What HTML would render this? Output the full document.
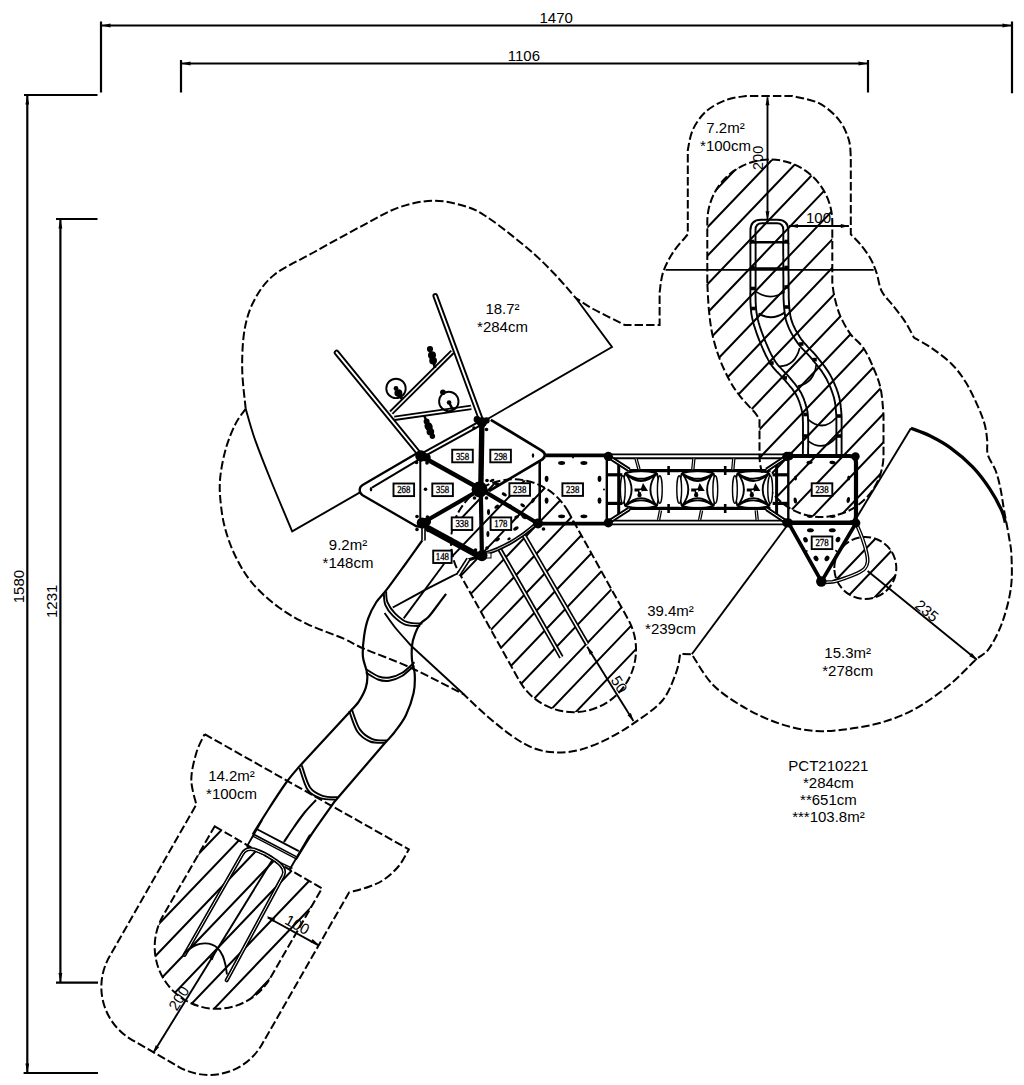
<!DOCTYPE html>
<html><head><meta charset="utf-8"><title>PCT210221</title>
<style>
html,body{margin:0;padding:0;background:#fff;}
body{width:1024px;height:1085px;overflow:hidden;}
svg{display:block;}
text{fill:#000;}
</style></head><body>
<svg width="1024" height="1085" viewBox="0 0 1024 1085">
<defs>
<clipPath id="hc1"><path d="M707.3 283L707.3 222A62.3 62.3 0 0 1 832.3 222L832.3 283C832.7 285.3 833.2 291.6 834.5 297C835.8 302.4 837.4 309.2 840 315.3C842.6 321.4 846.2 328.2 850.1 333.6C854 339 859.4 342.1 863.3 347.8C867.2 353.5 870.6 361.2 873.5 368C876.4 374.8 878.9 380.6 880.6 388.3C882.3 396 883 409.7 883.5 414L883.5 455A62 62 0 0 1 759.5 455L759.5 419C758.7 418.8 758.1 416.7 754.9 412.7C751.6 408.7 744.1 401.4 740 396.1C735.9 390.9 733.4 387.4 730 381.2C726.6 375 722.6 366.6 719.7 359C716.8 351.4 714.4 343.4 712.6 335.4C710.8 327.4 709.9 319.7 709 311C708.1 302.3 707.6 287.7 707.3 283Z"/></clipPath>
<clipPath id="hc2"><path d="M567.6 510.6L628.6 620.1A62.5 62.5 0 0 1 519.4 680.9L458.4 571.4A62.5 62.5 0 0 1 567.6 510.6Z"/></clipPath>
<clipPath id="hc3"><path d="M214.7 826.3L322 888.3L270.4 977.8A62 62 0 0 1 163 915.8Z"/></clipPath>
<clipPath id="hc4"><path d="M834.3 568A31 31 0 1 1 896.3 568A31 31 0 1 1 834.3 568Z"/></clipPath>
</defs>
<rect width="1024" height="1085" fill="#fff"/>
<line x1="101" y1="25.5" x2="1012" y2="25.5" stroke="#000" stroke-width="2.2"/>
<line x1="101" y1="21.5" x2="101" y2="92.5" stroke="#000" stroke-width="2.2"/>
<line x1="1012" y1="21.5" x2="1012" y2="93.3" stroke="#000" stroke-width="2.2"/>
<polygon points="101.5,25.5 110.5,23.6 110.5,27.4" fill="#000"/>
<polygon points="1011.5,25.5 1002.5,27.4 1002.5,23.6" fill="#000"/>
<line x1="181" y1="63.5" x2="868" y2="63.5" stroke="#000" stroke-width="2.2"/>
<line x1="181" y1="60" x2="181" y2="92.5" stroke="#000" stroke-width="2.2"/>
<line x1="868" y1="60" x2="868" y2="92.5" stroke="#000" stroke-width="2.2"/>
<polygon points="181.5,63.5 190.5,61.6 190.5,65.4" fill="#000"/>
<polygon points="867.5,63.5 858.5,65.4 858.5,61.6" fill="#000"/>
<line x1="27.3" y1="95" x2="27.3" y2="1073" stroke="#000" stroke-width="2.2"/>
<line x1="24" y1="95" x2="97.5" y2="95" stroke="#000" stroke-width="2.2"/>
<line x1="23.6" y1="1073" x2="98" y2="1073" stroke="#000" stroke-width="2.2"/>
<polygon points="27.3,95.5 29.2,104.5 25.4,104.5" fill="#000"/>
<polygon points="27.3,1072.5 25.4,1063.5 29.2,1063.5" fill="#000"/>
<line x1="60.4" y1="219" x2="60.4" y2="982.6" stroke="#000" stroke-width="2.2"/>
<line x1="56" y1="219" x2="97.5" y2="219" stroke="#000" stroke-width="2.2"/>
<line x1="56" y1="982.6" x2="98" y2="982.6" stroke="#000" stroke-width="2.2"/>
<polygon points="60.4,219.5 62.3,228.5 58.5,228.5" fill="#000"/>
<polygon points="60.4,982 58.5,973 62.3,973" fill="#000"/>
<path d="M245.7 408.9C245.1 402.2 242.4 382.3 242.2 369C242 355.7 242.6 340.6 244.7 329C246.8 317.4 249.7 308.5 254.7 299.4C259.7 290.3 264.7 282.4 274.6 274.5C284.6 266.6 299.5 260.3 314.4 252C329.3 243.7 349.9 232.2 364 224.8C378.1 217.4 387.4 211.4 399 207.4C410.6 203.4 422.5 200.8 433.8 200.7C445.1 200.6 457.7 204 466.6 206.7C475.5 209.4 479.5 212.2 487 217C494.5 221.8 503.5 228.9 511.7 235.4C519.9 241.9 528.8 249.1 536.3 255.9C543.8 262.7 550.2 269.4 556.8 276.4C563.4 283.4 572.6 294.4 575.8 298C578.7 299.8 585.1 304.5 593.2 309C601.4 313.5 619.5 322.3 624.7 325L659.6 325L659.6 292.5C660.2 289.2 660.8 279.2 663 272.6C665.2 266 668.8 259 672.9 252.6C677 246.2 685.3 237.4 687.8 234.4L687.8 150C688.6 146.6 689.8 136.2 692.8 129.8C695.8 123.4 700.5 116.5 706 111.5C711.5 106.5 719.3 102.6 726 100C732.7 97.4 742.7 96.7 746 96L792.4 96C796.8 97.2 811.2 99.2 819 103.2C826.8 107.2 833.9 113.7 838.9 119.8C843.9 125.9 846.8 133.4 848.8 139.8C850.8 146.2 850.5 155 850.8 158L850.8 234.4C852.4 236.1 857 240.3 860.3 244.3C863.6 248.3 867.7 253.8 870.4 258.5C873.1 263.2 874.6 267.3 876.5 272.7C878.4 278.1 878.9 285.6 881.6 291C884.3 296.4 888.8 300.1 892.7 305.2C896.6 310.3 901.4 316 904.9 321.4C908.4 326.8 912.5 334.9 914 337.6C916.9 339.3 925 343.4 931.3 347.8C937.6 352.2 945.9 358.2 951.6 364C957.4 369.8 961.4 375.2 965.8 382.3C970.2 389.4 974.9 399.6 978 406.6C981.1 413.6 983.2 418.9 984.7 424.5C986.2 430.1 986.7 435.2 987.2 440.3C987.7 445.4 986.4 449.8 987.8 454.8C989.2 459.8 993.5 464.9 995.6 470.5C997.7 476.1 999.1 482 1000.5 488.7C1001.9 495.4 1002.7 502.4 1004.1 510.5C1005.5 518.5 1007.8 529.4 1009 537C1010.2 544.6 1011.2 547.5 1011.5 556C1011.8 564.5 1012.4 577 1010.9 588C1009.4 599 1006.1 611.6 1002.5 621.7C998.9 631.8 993.5 642.2 989 648.6C984.5 655 982.3 653.9 975.6 660C968.9 666.1 958.8 677.3 948.7 685.5C938.6 693.7 926.2 702.8 915 709C903.8 715.2 892.7 719.2 881.5 722.5C870.3 725.8 859.2 727.6 848 729C836.8 730.4 825.6 731.8 814.4 731C803.2 730.2 792 727.7 780.8 724C769.6 720.3 758.2 715.4 747 709C735.8 702.6 722.8 694.6 713.6 685.5C704.4 676.4 695.4 659.5 691.8 654.3L680.2 654C679.5 657.2 679 665.2 676 673C673 680.8 669.2 692.3 662.4 700.5C655.6 708.7 644.1 716 635 722.4C625.9 728.8 616.8 734.2 607.7 738.8C598.6 743.3 589 747.4 580.4 749.7C571.8 752 563.5 752.6 555.8 752.4C548.1 752.2 541.3 751 534 748.3C526.7 745.6 520.2 741.7 512 736C503.8 730.3 492.7 720.9 484.7 714C476.7 707.1 467.4 697.8 464 694.5C455.2 690.1 428 675.6 411.4 668C394.8 660.4 375.7 653.8 364.4 648.9C353.1 644 353.1 642.8 343.7 638.7C334.3 634.6 318.6 629.5 307.8 624.3C297 619.1 288.2 614.3 279 607.5C269.8 600.7 259.9 592 252.7 583.6C245.5 575.2 240.5 566.4 235.9 557.2C231.3 548 227.7 538.1 225.1 528.5C222.5 518.9 221.2 508.6 220.4 499.8C219.6 491 219.4 484.6 220.4 475.8C221.4 467 223.7 455.8 226.3 447C228.9 438.2 232.7 429.5 235.9 423.1C239.1 416.8 244.1 411.3 245.7 408.9" fill="none" stroke="#000" stroke-width="2" stroke-dasharray="8.4 3.1"/>
<path d="M245.7 408.9C247.3 414.1 250.7 427.5 255.1 439.9C259.5 452.2 265.7 467.8 271.9 483C278.1 498.2 288.8 523.3 292.2 531.4L360 492.4" fill="none" stroke="#000" stroke-width="1.9"/>
<path d="M482 422.2L612 347L575.8 298" fill="none" stroke="#000" stroke-width="1.9"/>
<path d="M786.8 526L691.8 654.3" fill="none" stroke="#000" stroke-width="1.9"/>
<path d="M856.4 518L910.9 428.2" fill="none" stroke="#000" stroke-width="1.9"/>
<path d="M910.9 428.2C914.1 429.5 923.6 432.7 930.3 436C936.9 439.3 943.8 443 950.8 448.1C957.8 453.2 966.1 460.1 972.6 466.9C979.1 473.7 984.8 481.4 989.6 488.7C994.5 496 999.1 504.9 1001.7 510.5C1004.3 516.1 1004.7 520.6 1005.3 522.6" fill="none" stroke="#000" stroke-width="3.3"/>
<path d="M411.4 646L464 694.5" fill="none" stroke="#000" stroke-width="1.9"/>
<path d="M204.6 734.2L408.8 849.4C407.1 852.2 402.9 861 398.8 866C394.7 871 388.9 876.1 384 879.5C379.1 882.9 375.4 884.3 369.6 886.5C363.8 888.7 352.4 891.5 349 892.5L261.9 1044.5A61 61 0 0 1 178.6 1066.8L131.8 1039.8A61 61 0 0 1 109.5 956.5L196.3 804.6C195.5 800.5 191.3 788.3 191.3 779.7C191.3 771.1 194.1 760.6 196.3 753C198.5 745.4 203.2 737.3 204.6 734.2" fill="none" stroke="#000" stroke-width="2" stroke-dasharray="8.4 3.1"/>
<g clip-path="url(#hc1)"><path d="M690 -381.5L900 -600.9M690 -353L900 -572.4M690 -324.5L900 -543.9M690 -296L900 -515.4M690 -267.5L900 -486.9M690 -239L900 -458.4M690 -210.5L900 -429.9M690 -182L900 -401.4M690 -153.5L900 -372.9M690 -125L900 -344.4M690 -96.5L900 -315.9M690 -68L900 -287.4M690 -39.5L900 -258.9M690 -11L900 -230.4M690 17.5L900 -201.9M690 46L900 -173.4M690 74.5L900 -144.9M690 103L900 -116.4M690 131.5L900 -87.9M690 160L900 -59.4M690 188.5L900 -30.9M690 217L900 -2.4M690 245.5L900 26.1M690 274L900 54.6M690 302.5L900 83.1M690 331L900 111.6M690 359.5L900 140.1M690 388L900 168.6M690 416.5L900 197.1M690 445L900 225.6M690 473.5L900 254.1M690 502L900 282.6M690 530.5L900 311.1M690 559L900 339.6M690 587.5L900 368.1M690 616L900 396.6M690 644.5L900 425.1M690 673L900 453.6M690 701.5L900 482.1M690 730L900 510.6M690 758.5L900 539.1M690 787L900 567.6M690 815.5L900 596.1M690 844L900 624.6M690 872.5L900 653.1M690 901L900 681.6M690 929.5L900 710.1M690 958L900 738.6M690 986.5L900 767.1M690 1015L900 795.6M690 1043.5L900 824.1M690 1072L900 852.6M690 1100.5L900 881.1M690 1129L900 909.6M690 1157.5L900 938.1M690 1186L900 966.6M690 1214.5L900 995.1M690 1243L900 1023.6M690 1271.5L900 1052.1M690 1300L900 1080.6M690 1328.5L900 1109.1" fill="none" stroke="#000" stroke-width="2.0"/></g>
<g clip-path="url(#hc2)"><path d="M430 -76.1L650 -306M430 -47.6L650 -277.5M430 -19.1L650 -249M430 9.4L650 -220.5M430 37.9L650 -192M430 66.4L650 -163.5M430 94.9L650 -135M430 123.4L650 -106.5M430 151.9L650 -78M430 180.4L650 -49.5M430 208.9L650 -21M430 237.4L650 7.5M430 265.9L650 36M430 294.4L650 64.5M430 322.9L650 93M430 351.4L650 121.5M430 379.9L650 150M430 408.4L650 178.5M430 436.9L650 207M430 465.4L650 235.5M430 493.9L650 264M430 522.5L650 292.5M430 551L650 321M430 579.5L650 349.5M430 608L650 378M430 636.5L650 406.5M430 665L650 435M430 693.5L650 463.5M430 722L650 492M430 750.5L650 520.5M430 779L650 549M430 807.5L650 577.5M430 836L650 606M430 864.5L650 634.5M430 893L650 663M430 921.5L650 691.5M430 950L650 720M430 978.5L650 748.5M430 1007L650 777M430 1035.5L650 805.5M430 1064L650 834M430 1092.5L650 862.5M430 1121L650 891M430 1149.5L650 919.5M430 1178L650 948M430 1206.5L650 976.5M430 1235L650 1005M430 1263.5L650 1033.5M430 1292L650 1062M430 1320.5L650 1090.5M430 1349L650 1119M430 1377.5L650 1147.5M430 1406L650 1176M430 1434.5L650 1204.5M430 1463L650 1233M430 1491.5L650 1261.5M430 1520L650 1290M430 1548.5L650 1318.5M430 1577L650 1347M430 1605.5L650 1375.6M430 1634L650 1404.1" fill="none" stroke="#000" stroke-width="2.0"/></g>
<g clip-path="url(#hc3)"><path d="M140 202.7L340 -6.3M140 231.2L340 22.2M140 259.7L340 50.7M140 288.2L340 79.2M140 316.7L340 107.7M140 345.2L340 136.2M140 373.7L340 164.7M140 402.2L340 193.2M140 430.7L340 221.7M140 459.2L340 250.2M140 487.7L340 278.7M140 516.2L340 307.2M140 544.7L340 335.7M140 573.2L340 364.2M140 601.7L340 392.7M140 630.2L340 421.2M140 658.7L340 449.7M140 687.2L340 478.2M140 715.7L340 506.7M140 744.2L340 535.2M140 772.7L340 563.7M140 801.2L340 592.2M140 829.7L340 620.7M140 858.2L340 649.2M140 886.7L340 677.7M140 915.2L340 706.2M140 943.7L340 734.7M140 972.2L340 763.2M140 1000.7L340 791.7M140 1029.2L340 820.2M140 1057.7L340 848.7M140 1086.2L340 877.2M140 1114.7L340 905.7M140 1143.2L340 934.2M140 1171.7L340 962.7M140 1200.2L340 991.2M140 1228.7L340 1019.7M140 1257.2L340 1048.2M140 1285.7L340 1076.7M140 1314.2L340 1105.2M140 1342.7L340 1133.7M140 1371.2L340 1162.2M140 1399.7L340 1190.7M140 1428.2L340 1219.2M140 1456.7L340 1247.7M140 1485.2L340 1276.2M140 1513.7L340 1304.7M140 1542.2L340 1333.2M140 1570.7L340 1361.7M140 1599.2L340 1390.2M140 1627.7L340 1418.7M140 1656.2L340 1447.2M140 1684.7L340 1475.7M140 1713.2L340 1504.2M140 1741.7L340 1532.7M140 1770.2L340 1561.2M140 1798.7L340 1589.7M140 1827.2L340 1618.2M140 1855.7L340 1646.7M140 1884.2L340 1675.2M140 1912.7L340 1703.7" fill="none" stroke="#000" stroke-width="2.0"/></g>
<g clip-path="url(#hc4)"><path d="M820 -241.5L905 -330.3M820 -212.6L905 -301.4M820 -183.7L905 -272.5M820 -154.8L905 -243.6M820 -125.9L905 -214.7M820 -97L905 -185.8M820 -68.1L905 -156.9M820 -39.2L905 -128M820 -10.3L905 -99.1M820 18.6L905 -70.2M820 47.5L905 -41.3M820 76.4L905 -12.4M820 105.3L905 16.5M820 134.2L905 45.4M820 163.1L905 74.3M820 192L905 103.2M820 220.9L905 132.1M820 249.8L905 161M820 278.7L905 189.9M820 307.6L905 218.8M820 336.5L905 247.7M820 365.4L905 276.6M820 394.3L905 305.5M820 423.2L905 334.4M820 452.1L905 363.3M820 481L905 392.2M820 509.9L905 421.1M820 538.8L905 450M820 567.7L905 478.9M820 596.6L905 507.8M820 625.5L905 536.7M820 654.4L905 565.6M820 683.3L905 594.5M820 712.2L905 623.4M820 741.1L905 652.3M820 770L905 681.2M820 798.9L905 710.1M820 827.8L905 739M820 856.7L905 767.9M820 885.6L905 796.8M820 914.5L905 825.7M820 943.4L905 854.6M820 972.3L905 883.5M820 1001.2L905 912.4M820 1030.1L905 941.3M820 1059L905 970.2M820 1087.9L905 999.1M820 1116.8L905 1028M820 1145.7L905 1056.9M820 1174.6L905 1085.8M820 1203.5L905 1114.7M820 1232.4L905 1143.6M820 1261.3L905 1172.5M820 1290.2L905 1201.4M820 1319.1L905 1230.3M820 1348L905 1259.2M820 1376.9L905 1288.1M820 1405.8L905 1317M820 1434.7L905 1345.9M820 1463.6L905 1374.8M820 1492.5L905 1403.7" fill="none" stroke="#000" stroke-width="2.0"/></g>
<path d="M707.3 283L707.3 222A62.3 62.3 0 0 1 832.3 222L832.3 283C832.7 285.3 833.2 291.6 834.5 297C835.8 302.4 837.4 309.2 840 315.3C842.6 321.4 846.2 328.2 850.1 333.6C854 339 859.4 342.1 863.3 347.8C867.2 353.5 870.6 361.2 873.5 368C876.4 374.8 878.9 380.6 880.6 388.3C882.3 396 883 409.7 883.5 414L883.5 455A62 62 0 0 1 759.5 455L759.5 419C758.7 418.8 758.1 416.7 754.9 412.7C751.6 408.7 744.1 401.4 740 396.1C735.9 390.9 733.4 387.4 730 381.2C726.6 375 722.6 366.6 719.7 359C716.8 351.4 714.4 343.4 712.6 335.4C710.8 327.4 709.9 319.7 709 311C708.1 302.3 707.6 287.7 707.3 283Z" fill="none" stroke="#000" stroke-width="2" stroke-dasharray="8.4 3.1"/>
<path d="M567.6 510.6L628.6 620.1A62.5 62.5 0 0 1 519.4 680.9L458.4 571.4A62.5 62.5 0 0 1 567.6 510.6Z" fill="none" stroke="#000" stroke-width="2" stroke-dasharray="8.4 3.1"/>
<path d="M214.7 826.3L322 888.3L270.4 977.8A62 62 0 0 1 163 915.8Z" fill="none" stroke="#000" stroke-width="2" stroke-dasharray="8.4 3.1"/>
<path d="M834.3 568A31 31 0 1 1 896.3 568A31 31 0 1 1 834.3 568Z" fill="none" stroke="#000" stroke-width="2" stroke-dasharray="8.4 3.1"/>
<path d="M750.4 243L750.4 244.8L750.4 247.2L750.4 249.9L750.4 253L750.4 256.4L750.4 259.9L750.4 263.6L750.4 267.2L750.4 270.7L750.4 274.1L750.4 277.2L750.4 280L750.4 282.5L750.4 284.9L750.4 287.3L750.4 289.5L750.4 291.6L750.3 293.7L750.3 295.7L750.4 297.7L750.4 299.6L750.4 301.5L750.5 303.3L750.6 305.1L750.7 306.7L750.8 308.3L751 309.8L751.1 311.1L751.2 312.5L751.4 313.8L751.6 315.1L751.9 316.4L752.1 317.7L752.4 319.1L752.8 320.6L753.2 322.2L753.6 323.8L754.1 325.6L754.7 327.3L755.3 329.2L755.9 331L756.5 332.9L757.2 334.8L757.9 336.7L758.6 338.6L759.3 340.4L760.1 342.2L760.8 344L761.5 345.7L762.3 347.5L763 349.2L763.8 351L764.6 352.7L765.4 354.5L766.3 356.2L767.2 357.9L768.1 359.6L769 361.2L769.9 362.8L770.9 364.3L772 365.9L773.1 367.3L774.2 368.7L775.4 370L776.6 371.3L777.8 372.5L778.9 373.7L780.1 374.9L781.2 376.1L782.3 377.2L783.4 378.4L784.4 379.6L785.5 380.8L786.5 382.1L787.6 383.3L788.6 384.5L789.6 385.8L790.7 387L791.6 388.2L792.6 389.4L793.4 390.6L794.3 391.8L795 393L795.8 394.1L796.4 395.3L797 396.5L797.6 397.7L798.1 398.8L798.6 400.1L799.1 401.3L799.5 402.5L799.9 403.7L800.3 404.8L800.6 406L801 407.2L801.3 408.4L801.6 409.5L801.8 410.4L802 411.2L802.2 412L802.3 412.7L802.4 413.4L802.5 414.3L802.6 415.2L802.7 416.3L802.8 417.7L802.8 419.2L802.9 421.1L803 423.3L803 426L803 429.1L803 432.4L803 435.8L803 439.3L803 442.8L803 446.1L802.9 449.2L802.9 451.9L802.9 454.2L802.9 456" fill="none" stroke="#000" stroke-width="1.9"/>
<path d="M755.6 243L755.6 244.8L755.6 247.2L755.6 249.9L755.6 253L755.6 256.4L755.6 259.9L755.6 263.6L755.6 267.2L755.6 270.7L755.6 274.1L755.6 277.2L755.6 280L755.6 282.5L755.6 285L755.6 287.3L755.6 289.5L755.6 291.7L755.5 293.7L755.5 295.7L755.6 297.6L755.6 299.5L755.6 301.3L755.7 303L755.8 304.7L755.9 306.4L756 307.9L756.1 309.3L756.3 310.6L756.4 311.8L756.6 313L756.8 314.2L757 315.4L757.2 316.7L757.5 318L757.8 319.3L758.2 320.8L758.6 322.4L759.1 324.1L759.6 325.8L760.2 327.6L760.8 329.4L761.4 331.2L762.1 333L762.8 334.9L763.5 336.7L764.2 338.5L764.9 340.3L765.6 342L766.3 343.7L767.1 345.4L767.8 347.2L768.6 348.9L769.3 350.6L770.1 352.2L770.9 353.9L771.8 355.5L772.6 357L773.5 358.6L774.4 360L775.3 361.5L776.2 362.8L777.2 364.1L778.2 365.3L779.3 366.5L780.4 367.7L781.5 368.9L782.7 370.1L783.8 371.3L785 372.5L786.1 373.7L787.3 374.9L788.4 376.2L789.4 377.5L790.5 378.7L791.5 379.9L792.6 381.2L793.6 382.5L794.7 383.7L795.7 385L796.7 386.3L797.7 387.6L798.6 388.9L799.4 390.2L800.2 391.5L801 392.8L801.7 394.1L802.3 395.5L802.9 396.8L803.5 398.1L804 399.4L804.4 400.8L804.9 402L805.3 403.3L805.6 404.6L806 405.8L806.3 407L806.6 408.1L806.9 409.1L807.1 410L807.3 410.9L807.4 411.8L807.6 412.7L807.7 413.7L807.8 414.8L807.9 416L808 417.4L808 419L808.1 420.9L808.2 423.2L808.2 426L808.2 429L808.2 432.4L808.2 435.8L808.2 439.3L808.2 442.8L808.2 446.1L808.1 449.2L808.1 452L808.1 454.3L808.1 456" fill="none" stroke="#000" stroke-width="1.9"/>
<path d="M783.2 243L783.2 244.8L783.2 247.2L783.2 249.9L783.2 253.1L783.3 256.4L783.3 260L783.3 263.6L783.3 267.2L783.3 270.7L783.3 274.1L783.4 277.2L783.4 280L783.4 282.5L783.4 284.9L783.4 287.2L783.4 289.5L783.5 291.6L783.5 293.6L783.5 295.7L783.5 297.6L783.6 299.5L783.7 301.4L783.8 303.3L783.9 305.1L784.1 306.9L784.2 308.6L784.4 310.2L784.5 311.8L784.7 313.3L784.9 314.8L785.2 316.3L785.5 317.8L785.8 319.3L786.2 320.9L786.7 322.4L787.3 324L787.9 325.6L788.5 327.2L789.2 328.8L790 330.4L790.8 332L791.7 333.6L792.6 335.2L793.5 336.8L794.5 338.3L795.5 339.9L796.5 341.4L797.6 342.9L798.7 344.4L799.9 345.9L801.2 347.4L802.5 348.8L803.8 350.2L805.1 351.5L806.4 352.9L807.7 354.2L809 355.6L810.2 356.9L811.4 358.3L812.6 359.7L813.8 361.1L814.9 362.6L816.1 364L817.3 365.5L818.5 367L819.6 368.5L820.7 369.9L821.8 371.4L822.8 372.9L823.8 374.5L824.7 376L825.6 377.5L826.5 379L827.3 380.6L828.1 382.3L828.9 383.9L829.6 385.6L830.3 387.2L831 388.9L831.6 390.6L832.2 392.2L832.7 393.8L833.2 395.3L833.7 396.8L834.1 398.3L834.4 399.7L834.7 401.1L835 402.5L835.2 403.8L835.4 405.2L835.5 406.5L835.7 407.9L835.8 409.2L835.9 410.4L836 411.7L836.1 412.9L836.2 414L836.3 415L836.3 415.8L836.4 416.5L836.4 417.2L836.4 418L836.4 418.8L836.4 419.7L836.4 420.7L836.4 421.9L836.4 423.3L836.4 425L836.4 427L836.4 429.4L836.4 432.2L836.4 435.1L836.4 438.2L836.4 441.3L836.4 444.3L836.4 447.3L836.4 450L836.4 452.4L836.4 454.4L836.4 456" fill="none" stroke="#000" stroke-width="1.9"/>
<path d="M788.4 243L788.4 244.8L788.4 247.2L788.4 249.9L788.4 253L788.5 256.4L788.5 259.9L788.5 263.6L788.5 267.2L788.5 270.7L788.5 274.1L788.6 277.2L788.6 280L788.6 282.5L788.6 284.9L788.6 287.2L788.6 289.4L788.7 291.6L788.7 293.6L788.7 295.6L788.7 297.5L788.8 299.3L788.9 301.1L789 302.9L789.1 304.7L789.2 306.4L789.4 308.1L789.5 309.7L789.7 311.2L789.9 312.6L790.1 314L790.3 315.4L790.6 316.7L790.9 318.1L791.2 319.4L791.7 320.8L792.1 322.2L792.7 323.7L793.3 325.1L794 326.6L794.7 328.1L795.4 329.6L796.2 331.1L797.1 332.6L798 334.1L798.9 335.5L799.8 337L800.8 338.5L801.8 339.9L802.8 341.2L803.9 342.6L805.1 343.9L806.3 345.2L807.5 346.6L808.8 347.9L810.1 349.2L811.4 350.6L812.8 352L814.1 353.4L815.4 354.9L816.6 356.3L817.8 357.8L819 359.3L820.2 360.8L821.4 362.3L822.6 363.8L823.7 365.3L824.9 366.9L826 368.4L827.1 370L828.2 371.6L829.2 373.3L830.2 374.9L831.1 376.6L832 378.3L832.8 380L833.6 381.8L834.4 383.5L835.1 385.3L835.8 387L836.5 388.7L837.1 390.5L837.7 392.1L838.2 393.8L838.7 395.4L839.1 397L839.5 398.5L839.8 400.1L840.1 401.6L840.3 403.1L840.5 404.6L840.7 406L840.8 407.4L841 408.7L841.1 410L841.2 411.2L841.3 412.5L841.4 413.6L841.5 414.6L841.5 415.5L841.6 416.3L841.6 417.1L841.6 417.9L841.6 418.8L841.6 419.7L841.6 420.7L841.6 421.9L841.6 423.3L841.6 425L841.6 427L841.6 429.4L841.6 432.2L841.6 435.1L841.6 438.2L841.6 441.3L841.6 444.3L841.6 447.3L841.6 450L841.6 452.4L841.6 454.4L841.6 456" fill="none" stroke="#000" stroke-width="1.9"/>
<path d="M750.4 244L750.4 230.5Q750.4 219.7 761 219.7L777.5 219.7Q788.3 219.7 788.3 230.5L788.3 244" fill="none" stroke="#000" stroke-width="1.9"/>
<path d="M755.5 244L755.5 230Q755.5 223.3 762 223.3L777 223.3Q783.3 223.3 783.3 230L783.3 244" fill="none" stroke="#000" stroke-width="1.9"/>
<path d="M751 242.3L788 242.3" fill="none" stroke="#000" stroke-width="2.4"/>
<path d="M751 268.6L788 268.6" fill="none" stroke="#000" stroke-width="2.8"/>
<path d="M756 291.6Q770.6 301.5 784.7 291.6" fill="none" stroke="#000" stroke-width="1.7"/>
<path d="M758.5 313.5Q771.5 321.5 785 312.3" fill="none" stroke="#000" stroke-width="2"/>
<path d="M779.8 366.3Q795 366 799.7 348" fill="none" stroke="#000" stroke-width="1.7"/>
<path d="M798 386.2Q814 383 816.3 364.6" fill="none" stroke="#000" stroke-width="1.7"/>
<path d="M808 419.3Q822.9 432.5 836.2 417.7" fill="none" stroke="#000" stroke-width="1.7"/>
<path d="M808 440.9Q822.9 452.5 836.2 437.6" fill="none" stroke="#000" stroke-width="1.7"/>
<rect x="750" y="239.7" width="4.4" height="3.6" fill="#000"/>
<rect x="784.4" y="239.7" width="4.4" height="3.6" fill="#000"/>
<rect x="750.3" y="265.7" width="4.4" height="3.6" fill="#000"/>
<rect x="784.3" y="265.7" width="4.4" height="3.6" fill="#000"/>
<rect x="750.8" y="286.7" width="4.4" height="3.6" fill="#000"/>
<rect x="784.3" y="285.2" width="4.4" height="3.6" fill="#000"/>
<rect x="751.2" y="306.7" width="4.4" height="3.6" fill="#000"/>
<rect x="784.6" y="305.2" width="4.4" height="3.6" fill="#000"/>
<rect x="769.3" y="361.2" width="4.4" height="3.6" fill="#000"/>
<rect x="782.6" y="376.1" width="4.4" height="3.6" fill="#000"/>
<rect x="799.1" y="342.2" width="4.4" height="3.6" fill="#000"/>
<rect x="812.4" y="357.8" width="4.4" height="3.6" fill="#000"/>
<rect x="803.3" y="412.7" width="4.4" height="3.6" fill="#000"/>
<rect x="803.3" y="434.2" width="4.4" height="3.6" fill="#000"/>
<rect x="836.6" y="414.2" width="4.4" height="3.6" fill="#000"/>
<rect x="836.8" y="434.2" width="4.4" height="3.6" fill="#000"/>
<line x1="665.6" y1="269.9" x2="873.7" y2="269.9" stroke="#000" stroke-width="1.9"/>
<line x1="767.5" y1="97.3" x2="767.5" y2="219.4" stroke="#000" stroke-width="1.9"/>
<polygon points="767.5,96.8 769.5,105.3 765.5,105.3" fill="#000"/>
<polygon points="767.5,219.8 765.5,211.3 769.5,211.3" fill="#000"/>
<line x1="789" y1="226" x2="848.9" y2="226" stroke="#000" stroke-width="1.9"/>
<polygon points="789.4,226 797.9,224 797.9,228" fill="#000"/>
<polygon points="849.3,226 840.8,228 840.8,224" fill="#000"/>
<text x="762.8" y="170" font-size="14.5" font-family='"Liberation Sans", Arial, sans-serif' text-anchor="start" transform="rotate(-90 762.8 170)">200</text>
<text x="806" y="223.3" font-size="15" font-family='"Liberation Sans", Arial, sans-serif' text-anchor="start">100</text>
<path d="M789 456L849.5 456Q856 456 856 462.5L856 516Q856 522.6 850 522.6" fill="none" stroke="#000" stroke-width="4.2"/>
<line x1="787.5" y1="522.8" x2="852" y2="522.8" stroke="#000" stroke-width="4.6"/>
<path d="M788.9 523.5L821.5 581.5L856.3 522.5" fill="none" stroke="#000" stroke-width="3.6" stroke-linejoin="round"/>
<path d="M856.5 524C857.5 526.5 861 534.5 862.7 539.3C864.4 544.1 865.8 549.2 866.6 553C867.4 556.8 867.9 559.2 867.6 561.8C867.3 564.4 866.5 566.6 864.7 568.6C862.9 570.6 860.3 571.9 856.9 573.5C853.5 575.1 848.3 577 844.2 578.4C840.1 579.8 836.2 581.1 832.5 581.8C828.8 582.4 823.8 582.2 822 582.3" fill="none" stroke="#000" stroke-width="3.8" stroke-linecap="butt" stroke-linejoin="round"/>
<path d="M856.5 524C857.5 526.5 861 534.5 862.7 539.3C864.4 544.1 865.8 549.2 866.6 553C867.4 556.8 867.9 559.2 867.6 561.8C867.3 564.4 866.5 566.6 864.7 568.6C862.9 570.6 860.3 571.9 856.9 573.5C853.5 575.1 848.3 577 844.2 578.4C840.1 579.8 836.2 581.1 832.5 581.8C828.8 582.4 823.8 582.2 822 582.3" fill="none" stroke="#fff" stroke-width="1.1" stroke-linecap="butt" stroke-linejoin="round"/>
<circle cx="789.5" cy="456" r="4.2" fill="#000"/>
<circle cx="855.5" cy="456.5" r="4.2" fill="#000"/>
<circle cx="788.9" cy="523" r="4.4" fill="#000"/>
<circle cx="856" cy="523" r="4.4" fill="#000"/>
<circle cx="821.3" cy="581.5" r="5.2" fill="#000"/>
<ellipse cx="809.5" cy="462.5" rx="3.1" ry="1.7" fill="#000" transform="rotate(-10 809.5 462.5)"/>
<ellipse cx="832.5" cy="462.5" rx="3.1" ry="1.7" fill="#000" transform="rotate(5 832.5 462.5)"/>
<ellipse cx="795.5" cy="478" rx="1.5" ry="2.5" fill="#000" transform="rotate(0 795.5 478)"/>
<ellipse cx="848.7" cy="478" rx="1.5" ry="2.5" fill="#000" transform="rotate(0 848.7 478)"/>
<ellipse cx="795.3" cy="500.5" rx="1.7" ry="3" fill="#000" transform="rotate(-8 795.3 500.5)"/>
<ellipse cx="848.3" cy="500" rx="1.7" ry="3" fill="#000" transform="rotate(8 848.3 500)"/>
<ellipse cx="810" cy="516.3" rx="3" ry="1.6" fill="#000" transform="rotate(0 810 516.3)"/>
<ellipse cx="832.5" cy="516.3" rx="3" ry="1.6" fill="#000" transform="rotate(0 832.5 516.3)"/>
<ellipse cx="810.4" cy="530.2" rx="3.4" ry="2" fill="#000" transform="rotate(0 810.4 530.2)"/>
<ellipse cx="832.3" cy="530.2" rx="3.4" ry="2" fill="#000" transform="rotate(0 832.3 530.2)"/>
<ellipse cx="805.5" cy="539.7" rx="2.2" ry="2.8" fill="#000" transform="rotate(-25 805.5 539.7)"/>
<ellipse cx="838" cy="539.5" rx="2.2" ry="2.8" fill="#000" transform="rotate(25 838 539.5)"/>
<ellipse cx="806.5" cy="551.3" rx="0.9" ry="1.4" fill="#000" transform="rotate(40 806.5 551.3)"/>
<ellipse cx="836.3" cy="551" rx="0.9" ry="1.4" fill="#000" transform="rotate(-40 836.3 551)"/>
<ellipse cx="816" cy="558.4" rx="2.3" ry="2.9" fill="#000" transform="rotate(-30 816 558.4)"/>
<ellipse cx="827" cy="558.4" rx="2.3" ry="2.9" fill="#000" transform="rotate(30 827 558.4)"/>
<rect x="811.7" y="483.3" width="20.6" height="12.6" fill="#fff" stroke="#000" stroke-width="1.9"/>
<text x="822" y="493.2" font-size="9.8" font-family='"Liberation Serif", "Times New Roman", serif' text-anchor="middle" stroke="#000" stroke-width="0.3" textLength="13.2" lengthAdjust="spacingAndGlyphs">238</text>
<rect x="811.7" y="536.5" width="20.6" height="12.6" fill="#fff" stroke="#000" stroke-width="1.9"/>
<text x="822" y="546.4" font-size="9.8" font-family='"Liberation Serif", "Times New Roman", serif' text-anchor="middle" stroke="#000" stroke-width="0.3" textLength="13.2" lengthAdjust="spacingAndGlyphs">278</text>
<line x1="867.6" y1="570.9" x2="976.9" y2="659.8" stroke="#000" stroke-width="1.9"/>
<polygon points="977.2,660 969.3,656.2 971.9,653.1" fill="#000"/>
<text x="913.9" y="606.9" font-size="15" font-family='"Liberation Sans", Arial, sans-serif' text-anchor="start" transform="rotate(39.1 913.9 606.9)">235</text>
<line x1="607" y1="454.4" x2="788" y2="454.4" stroke="#000" stroke-width="1.9"/>
<line x1="607" y1="458.2" x2="788" y2="458.2" stroke="#000" stroke-width="1.9"/>
<line x1="607" y1="520.6" x2="788" y2="520.6" stroke="#000" stroke-width="1.9"/>
<line x1="607" y1="524.4" x2="788" y2="524.4" stroke="#000" stroke-width="1.9"/>
<line x1="629" y1="470.6" x2="770.5" y2="470.6" stroke="#000" stroke-width="3.2"/>
<line x1="629" y1="508.3" x2="770.5" y2="508.3" stroke="#000" stroke-width="3.2"/>
<line x1="606.8" y1="454" x2="606.8" y2="525" stroke="#000" stroke-width="2.4"/>
<line x1="618.7" y1="463.5" x2="618.7" y2="516.5" stroke="#000" stroke-width="3"/>
<line x1="606.8" y1="474.8" x2="622.7" y2="474.8" stroke="#000" stroke-width="3.2"/>
<line x1="606.8" y1="503.4" x2="622.7" y2="503.4" stroke="#000" stroke-width="3.2"/>
<path d="M608.8 456.8L629.3 470" fill="none" stroke="#000" stroke-width="4.6" stroke-linecap="butt" stroke-linejoin="round"/>
<path d="M608.8 456.8L629.3 470" fill="none" stroke="#fff" stroke-width="1" stroke-linecap="butt" stroke-linejoin="round"/>
<path d="M608.8 522L629.3 508.8" fill="none" stroke="#000" stroke-width="4.6" stroke-linecap="butt" stroke-linejoin="round"/>
<path d="M608.8 522L629.3 508.8" fill="none" stroke="#fff" stroke-width="1" stroke-linecap="butt" stroke-linejoin="round"/>
<circle cx="608.3" cy="456.4" r="4.6" fill="#000"/>
<circle cx="608.3" cy="522.8" r="4.6" fill="#000"/>
<line x1="788.3" y1="454" x2="788.3" y2="525" stroke="#000" stroke-width="2.4"/>
<line x1="776.6" y1="463.5" x2="776.6" y2="516.5" stroke="#000" stroke-width="3"/>
<line x1="788.3" y1="474.8" x2="772.6" y2="474.8" stroke="#000" stroke-width="3.2"/>
<line x1="788.3" y1="503.4" x2="772.6" y2="503.4" stroke="#000" stroke-width="3.2"/>
<path d="M786.3 456.8L766.5 470" fill="none" stroke="#000" stroke-width="4.6" stroke-linecap="butt" stroke-linejoin="round"/>
<path d="M786.3 456.8L766.5 470" fill="none" stroke="#fff" stroke-width="1" stroke-linecap="butt" stroke-linejoin="round"/>
<path d="M786.3 522L766.5 508.8" fill="none" stroke="#000" stroke-width="4.6" stroke-linecap="butt" stroke-linejoin="round"/>
<path d="M786.3 522L766.5 508.8" fill="none" stroke="#fff" stroke-width="1" stroke-linecap="butt" stroke-linejoin="round"/>
<circle cx="786.8" cy="456.4" r="4.6" fill="#000"/>
<circle cx="786.8" cy="522.8" r="4.6" fill="#000"/>
<path d="M636 458.6L639 469.3" fill="none" stroke="#000" stroke-width="3.4" stroke-linecap="butt" stroke-linejoin="round"/>
<path d="M636 458.6L639 469.3" fill="none" stroke="#fff" stroke-width="0.9" stroke-linecap="butt" stroke-linejoin="round"/>
<path d="M693.9 458.6L692.8 469.3" fill="none" stroke="#000" stroke-width="3.4" stroke-linecap="butt" stroke-linejoin="round"/>
<path d="M693.9 458.6L692.8 469.3" fill="none" stroke="#fff" stroke-width="0.9" stroke-linecap="butt" stroke-linejoin="round"/>
<path d="M733.8 458.6L732.8 469.3" fill="none" stroke="#000" stroke-width="3.4" stroke-linecap="butt" stroke-linejoin="round"/>
<path d="M733.8 458.6L732.8 469.3" fill="none" stroke="#fff" stroke-width="0.9" stroke-linecap="butt" stroke-linejoin="round"/>
<path d="M660.5 510.3L658.6 520" fill="none" stroke="#000" stroke-width="3.4" stroke-linecap="butt" stroke-linejoin="round"/>
<path d="M660.5 510.3L658.6 520" fill="none" stroke="#fff" stroke-width="0.9" stroke-linecap="butt" stroke-linejoin="round"/>
<path d="M701.6 510.3L699.6 520" fill="none" stroke="#000" stroke-width="3.4" stroke-linecap="butt" stroke-linejoin="round"/>
<path d="M701.6 510.3L699.6 520" fill="none" stroke="#fff" stroke-width="0.9" stroke-linecap="butt" stroke-linejoin="round"/>
<path d="M756.2 510.3L757.2 520" fill="none" stroke="#000" stroke-width="3.4" stroke-linecap="butt" stroke-linejoin="round"/>
<path d="M756.2 510.3L757.2 520" fill="none" stroke="#fff" stroke-width="0.9" stroke-linecap="butt" stroke-linejoin="round"/>
<rect x="622.5" y="472.6" width="37" height="34" fill="#fff"/>
<path d="M625.2 473Q619.4 489.6 625.2 506.2M625.2 473Q638 489.6 625.2 506.2M656.8 473Q662.6 489.6 656.8 506.2M656.8 473Q644 489.6 656.8 506.2M625.2 473Q641 469.1 656.8 473M625.2 473Q641 489.1 656.8 473M627.2 474.5Q641 483.1 654.8 474.5M625.2 506.2Q641 510.1 656.8 506.2M625.2 506.2Q641 490.1 656.8 506.2M627.2 504.7Q641 496.1 654.8 504.7" fill="none" stroke="#000" stroke-width="1.9"/>
<path d="M634.5 489.9L642.5 489.9M639.5 488.6L639.5 496.1" fill="none" stroke="#000" stroke-width="3"/>
<polygon points="643,483.1 648,491.1 640,491.1" fill="#000"/>
<circle cx="639.5" cy="495.1" r="2.2" fill="#000"/>
<circle cx="640.5" cy="491.1" r="1.2" fill="#fff"/>
<rect x="679.2" y="472.6" width="37" height="34" fill="#fff"/>
<path d="M681.9 473Q676.1 489.6 681.9 506.2M681.9 473Q694.7 489.6 681.9 506.2M713.5 473Q719.3 489.6 713.5 506.2M713.5 473Q700.7 489.6 713.5 506.2M681.9 473Q697.7 469.1 713.5 473M681.9 473Q697.7 489.1 713.5 473M683.9 474.5Q697.7 483.1 711.5 474.5M681.9 506.2Q697.7 510.1 713.5 506.2M681.9 506.2Q697.7 490.1 713.5 506.2M683.9 504.7Q697.7 496.1 711.5 504.7" fill="none" stroke="#000" stroke-width="1.9"/>
<path d="M691.2 489.9L699.2 489.9M696.2 488.6L696.2 496.1" fill="none" stroke="#000" stroke-width="3"/>
<polygon points="699.7,483.1 704.7,491.1 696.7,491.1" fill="#000"/>
<circle cx="696.2" cy="495.1" r="2.2" fill="#000"/>
<circle cx="697.2" cy="491.1" r="1.2" fill="#fff"/>
<rect x="734.8" y="472.6" width="37" height="34" fill="#fff"/>
<path d="M737.5 473Q731.7 489.6 737.5 506.2M737.5 473Q750.3 489.6 737.5 506.2M769.1 473Q774.9 489.6 769.1 506.2M769.1 473Q756.3 489.6 769.1 506.2M737.5 473Q753.3 469.1 769.1 473M737.5 473Q753.3 489.1 769.1 473M739.5 474.5Q753.3 483.1 767.1 474.5M737.5 506.2Q753.3 510.1 769.1 506.2M737.5 506.2Q753.3 490.1 769.1 506.2M739.5 504.7Q753.3 496.1 767.1 504.7" fill="none" stroke="#000" stroke-width="1.9"/>
<path d="M746.8 489.9L754.8 489.9M751.8 488.6L751.8 496.1" fill="none" stroke="#000" stroke-width="3"/>
<polygon points="755.3,483.1 760.3,491.1 752.3,491.1" fill="#000"/>
<circle cx="751.8" cy="495.1" r="2.2" fill="#000"/>
<circle cx="752.8" cy="491.1" r="1.2" fill="#fff"/>
<ellipse cx="659.8" cy="489.6" rx="2.4" ry="13.8" fill="#fff" stroke="#000" stroke-width="1.4"/>
<ellipse cx="679.2" cy="489.6" rx="2.4" ry="13.8" fill="#fff" stroke="#000" stroke-width="1.4"/>
<ellipse cx="715.3" cy="489.6" rx="2.4" ry="13.8" fill="#fff" stroke="#000" stroke-width="1.4"/>
<ellipse cx="734.9" cy="489.6" rx="2.4" ry="13.8" fill="#fff" stroke="#000" stroke-width="1.4"/>
<ellipse cx="770.2" cy="489.6" rx="2.4" ry="13.8" fill="#fff" stroke="#000" stroke-width="1.4"/>
<ellipse cx="622.8" cy="489.6" rx="2.4" ry="13.8" fill="#fff" stroke="#000" stroke-width="1.4"/>
<line x1="668.6" y1="466" x2="668.6" y2="475" stroke="#000" stroke-width="2.6"/>
<line x1="668.6" y1="504" x2="668.6" y2="513" stroke="#000" stroke-width="2.6"/>
<line x1="725.2" y1="466" x2="725.2" y2="475" stroke="#000" stroke-width="2.6"/>
<line x1="725.2" y1="504" x2="725.2" y2="513" stroke="#000" stroke-width="2.6"/>
<path d="M422.2 540.5C419.2 544.8 409.9 557.8 404 566C398.1 574.2 391.3 583.7 386.7 589.7C382.1 595.7 379.5 597.2 376.4 602C373.3 606.8 370.2 612.7 368.2 618.4C366.1 624.1 365 629.8 364.1 636.2C363.2 642.6 362.4 650.4 362.9 656.7C363.4 663 366.7 668.6 367.2 673.8C367.7 678.9 367.2 683 365.8 687.6C364.4 692.2 361.4 697.5 358.9 701.4C356.4 705.3 352 709.4 350.6 711L299.4 766.4C297.1 769.2 291.1 775.7 285.9 783C280.7 790.3 273.5 801.4 268 810C262.5 818.6 255.2 830.4 252.7 834.5" fill="none" stroke="#000" stroke-width="2.2"/>
<path d="M446.1 593.8C444.6 595.8 439.9 602.1 437 606C434.1 609.9 431.2 614 428.4 617C425.6 620 422.5 620.9 420.2 623.9C417.9 626.9 416.1 631.1 414.7 634.8C413.3 638.4 412.4 641.6 412 645.8C411.6 650 411.6 655.3 412 660C412.4 664.7 414.4 668.3 414.7 673.8C415 679.3 415.1 686.1 413.6 693C412.1 699.9 409 708.7 405.9 715.2C402.8 721.7 398.5 726.9 394.8 731.8C391.1 736.6 385.6 742.2 383.8 744.3L334 802.3C330.4 807.4 318.9 823.3 312.5 832.8C306.1 842.3 298.7 855 295.9 859.4" fill="none" stroke="#000" stroke-width="2.2"/>
<path d="M383.9 593.8C384.1 595.6 383.8 601.1 385.3 604.8C386.8 608.4 389.5 612.4 392.8 615.7C396.1 619 400.5 622.9 405.1 624.6C409.7 626.3 417.7 625.8 420.2 626" fill="none" stroke="#000" stroke-width="1.9"/>
<path d="M386.1 591.4C386.3 593.2 386 598.8 387.5 602.4C389 606 391.7 610 395 613.3C398.3 616.6 402.7 620.5 407.3 622.2C411.9 623.9 419.9 623.4 422.4 623.6" fill="none" stroke="#000" stroke-width="1.9"/>
<path d="M365.8 672.4C367.8 673.6 374.1 678.1 378 679.5C381.9 680.9 385.3 681.3 389.3 680.7C393.3 680.1 397.9 678.5 402 676C406.1 673.5 412.2 667.2 414.2 665.5" fill="none" stroke="#000" stroke-width="1.9"/>
<path d="M366.1 669.2C368.1 670.4 374.4 674.9 378.3 676.3C382.2 677.7 385.6 678.1 389.6 677.5C393.6 676.9 398.2 675.3 402.3 672.8C406.4 670.3 412.5 664 414.5 662.3" fill="none" stroke="#000" stroke-width="1.9"/>
<path d="M349.2 711C350.6 714.5 354 726.7 357.5 731.8C361 736.9 365.4 739.6 370 741.5C374.6 743.4 382.5 742.7 385 742.9" fill="none" stroke="#000" stroke-width="1.9"/>
<path d="M351.6 708.6C353 712.1 356.4 724.3 359.9 729.4C363.4 734.5 367.8 737.2 372.4 739.1C377 741 384.9 740.3 387.4 740.5" fill="none" stroke="#000" stroke-width="1.9"/>
<path d="M299.4 767.8C300.8 771.5 304.2 784.8 307.7 789.9C311.2 795 315.6 796.6 320.2 798.2C324.8 799.8 332.9 799.4 335.4 799.6" fill="none" stroke="#000" stroke-width="1.9"/>
<path d="M301.8 765.4C303.2 769.1 306.6 782.4 310.1 787.5C313.6 792.6 318 794.2 322.6 795.8C327.2 797.4 335.3 797 337.8 797.2" fill="none" stroke="#000" stroke-width="1.9"/>
<path d="M444.1 563.7L403.7 618.4" fill="none" stroke="#000" stroke-width="1.9"/>
<path d="M458.4 573C452.9 575.8 436.5 584 425.6 589.7C414.7 595.5 398.3 604.5 392.8 607.5" fill="none" stroke="#000" stroke-width="1.9"/>
<path d="M384.6 613C386.4 615.5 391 622.5 395.5 628C400 633.5 408.8 643 411.4 646" fill="none" stroke="#000" stroke-width="1.9"/>
<path d="M316 800C314.2 802 308.7 807.5 305 812C301.3 816.5 297.5 822 294 827C290.5 832 285.7 839.5 284 842" fill="none" stroke="#000" stroke-width="2.1"/>
<path d="M262 820L246.8 846.6" fill="none" stroke="#000" stroke-width="1.9"/>
<path d="M310 834.8L289.4 870" fill="none" stroke="#000" stroke-width="1.9"/>
<path d="M256.6 829L298.8 851.2" fill="none" stroke="#000" stroke-width="1.9"/>
<path d="M253.6 834.3L296.2 856.6" fill="none" stroke="#000" stroke-width="1.6"/>
<path d="M252.7 836.1L295.3 858.4" fill="none" stroke="#000" stroke-width="1.4"/>
<path d="M246.8 846.6L292.5 868.4" fill="none" stroke="#000" stroke-width="1.6"/>
<path d="M184.5 955L242.3 854Q246 847.5 254 849.5Q266 853.5 275.5 860.5Q287 868.5 283 876L226.7 980.3" fill="none" stroke="#000" stroke-width="4" stroke-linecap="round" stroke-linejoin="round"/>
<path d="M184.5 955L242.3 854Q246 847.5 254 849.5Q266 853.5 275.5 860.5Q287 868.5 283 876L226.7 980.3" fill="none" stroke="#fff" stroke-width="1" stroke-linecap="round" stroke-linejoin="round"/>
<path d="M183.5 954.5C184.3 953.7 186.4 951.1 188.5 949.5C190.6 947.9 193.3 946 196 945C198.7 944 201.8 943.5 204.5 943.4C207.2 943.3 209.7 943.7 212 944.6C214.3 945.5 216.3 946.7 218.1 948.6C219.9 950.5 221.6 953.3 222.8 956C224 958.7 224.8 961.9 225.5 965C226.2 968.1 226.7 972.9 226.9 974.5" fill="none" stroke="#000" stroke-width="1.9"/>
<line x1="153.2" y1="1053" x2="272.6" y2="859.4" stroke="#000" stroke-width="1.9"/>
<polygon points="152.9,1053.5 155.7,1045.2 159.1,1047.3" fill="#000"/>
<polygon points="215.4,951.9 212.6,960.2 209.2,958.1" fill="#000"/>
<text x="176.7" y="1011.8" font-size="15" font-family='"Liberation Sans", Arial, sans-serif' text-anchor="start" transform="rotate(-58.4 176.7 1011.8)">200</text>
<line x1="267.7" y1="917.5" x2="319" y2="945.7" stroke="#000" stroke-width="1.9"/>
<polygon points="266.8,916.2 275.2,918.5 273.3,922" fill="#000"/>
<polygon points="319.1,944.9 310.7,942.6 312.6,939.1" fill="#000"/>
<text x="283.8" y="923.2" font-size="15" font-family='"Liberation Sans", Arial, sans-serif' text-anchor="start" transform="rotate(28.8 283.8 923.2)">100</text>
<path d="M499 548L561.4 657.3" fill="none" stroke="#000" stroke-width="4.9" stroke-linecap="butt" stroke-linejoin="round"/>
<path d="M499 548L561.4 657.3" fill="none" stroke="#fff" stroke-width="1.5" stroke-linecap="butt" stroke-linejoin="round"/>
<path d="M523.8 535L587.2 644.2" fill="none" stroke="#000" stroke-width="4.9" stroke-linecap="butt" stroke-linejoin="round"/>
<path d="M523.8 535L587.2 644.2" fill="none" stroke="#fff" stroke-width="1.5" stroke-linecap="butt" stroke-linejoin="round"/>
<line x1="587.2" y1="646.8" x2="633.4" y2="720.9" stroke="#000" stroke-width="1.9"/>
<polygon points="587,646.4 593.2,652.5 589.8,654.7" fill="#000"/>
<polygon points="633.7,721.3 627.5,715.2 630.9,713" fill="#000"/>
<text x="610.3" y="680.1" font-size="15" font-family='"Liberation Sans", Arial, sans-serif' text-anchor="start" transform="rotate(57.5 610.3 680.1)">50</text>
<path d="M391.2 412.7L452.5 351.8" fill="none" stroke="#000" stroke-width="5.3" stroke-linecap="butt" stroke-linejoin="round"/>
<path d="M391.2 412.7L452.5 351.8" fill="none" stroke="#fff" stroke-width="1.6" stroke-linecap="butt" stroke-linejoin="round"/>
<path d="M394.5 418.3L471.2 407.4" fill="none" stroke="#000" stroke-width="5.3" stroke-linecap="butt" stroke-linejoin="round"/>
<path d="M394.5 418.3L471.2 407.4" fill="none" stroke="#fff" stroke-width="1.6" stroke-linecap="butt" stroke-linejoin="round"/>
<path d="M336.6 352.6L421 456" fill="none" stroke="#000" stroke-width="5.7" stroke-linecap="round" stroke-linejoin="round"/>
<path d="M336.6 352.6L421 456" fill="none" stroke="#fff" stroke-width="1.9" stroke-linecap="round" stroke-linejoin="round"/>
<path d="M435.3 296L481.9 422.3" fill="none" stroke="#000" stroke-width="5.7" stroke-linecap="round" stroke-linejoin="round"/>
<path d="M435.3 296L481.9 422.3" fill="none" stroke="#fff" stroke-width="1.9" stroke-linecap="round" stroke-linejoin="round"/>
<circle cx="396" cy="388.4" r="9.7" fill="none" stroke="#000" stroke-width="1.9"/>
<circle cx="448.8" cy="401.4" r="9.7" fill="none" stroke="#000" stroke-width="1.9"/>
<ellipse cx="430" cy="349" rx="3.1" ry="3.1" fill="#000" transform="rotate(0 430 349)"/>
<ellipse cx="432" cy="355.2" rx="4" ry="3.9" fill="#000" transform="rotate(0 432 355.2)"/>
<ellipse cx="433.1" cy="360.7" rx="3.9" ry="3.7" fill="#000" transform="rotate(0 433.1 360.7)"/>
<line x1="433.5" y1="362" x2="435" y2="368" stroke="#000" stroke-width="2.8"/>
<ellipse cx="396" cy="388.4" rx="2.4" ry="2.4" fill="#000" transform="rotate(0 396 388.4)"/>
<ellipse cx="398.4" cy="393.1" rx="4" ry="3.8" fill="#000" transform="rotate(0 398.4 393.1)"/>
<line x1="399" y1="395" x2="402.7" y2="399.6" stroke="#000" stroke-width="3"/>
<ellipse cx="442.9" cy="392.3" rx="2.8" ry="2.8" fill="#000" transform="rotate(0 442.9 392.3)"/>
<line x1="449.1" y1="402.5" x2="452.9" y2="409.8" stroke="#000" stroke-width="2.5"/>
<ellipse cx="449.1" cy="402.5" rx="2.3" ry="2.3" fill="#000" transform="rotate(0 449.1 402.5)"/>
<line x1="424.3" y1="416" x2="426.5" y2="421" stroke="#000" stroke-width="2.4"/>
<ellipse cx="426.6" cy="421.5" rx="3" ry="3" fill="#000" transform="rotate(0 426.6 421.5)"/>
<ellipse cx="428.6" cy="426.5" rx="4" ry="4.2" fill="#000" transform="rotate(-20 428.6 426.5)"/>
<ellipse cx="430.4" cy="431.8" rx="3.8" ry="3.8" fill="#000" transform="rotate(0 430.4 431.8)"/>
<ellipse cx="432.4" cy="436.3" rx="2.7" ry="2.7" fill="#000" transform="rotate(0 432.4 436.3)"/>
<path d="M419.5 451.8L362.6 485A5.9 5.9 0 0 0 362.6 495.2L414.5 525.3Q418.5 528 422.3 525" fill="none" stroke="#000" stroke-width="2.3"/>
<path d="M490.8 419.8L541.3 450.3Q548 454.6 542.3 459.5L489 491" fill="none" stroke="#000" stroke-width="2.7"/>
<line x1="420.3" y1="456" x2="420.3" y2="523" stroke="#000" stroke-width="2"/>
<path d="M372 487.6L418 460.2" fill="none" stroke="#000" stroke-width="2"/>
<path d="M421 456L481.9 422.3" fill="none" stroke="#000" stroke-width="6" stroke-linecap="butt" stroke-linejoin="round"/>
<path d="M421 456L481.9 422.3" fill="none" stroke="#fff" stroke-width="1.9" stroke-linecap="butt" stroke-linejoin="round"/>
<path d="M481.9 422.3L480.8 489.3" fill="none" stroke="#000" stroke-width="5.4"/>
<path d="M480.8 489.3L481.9 555.6" fill="none" stroke="#000" stroke-width="4.2"/>
<path d="M421 456L480.8 489.3" fill="none" stroke="#000" stroke-width="4.6"/>
<path d="M480.8 489.3L538 523.5" fill="none" stroke="#000" stroke-width="4.2"/>
<path d="M422.3 523L480.8 489.3" fill="none" stroke="#000" stroke-width="4.2"/>
<path d="M424 526L480 556.5" fill="none" stroke="#000" stroke-width="6.4"/>
<path d="M482.4 554.5Q511 546.5 536.5 523.8" fill="none" stroke="#000" stroke-width="4.2" stroke-linecap="butt" stroke-linejoin="round"/>
<path d="M482.4 554.5Q511 546.5 536.5 523.8" fill="none" stroke="#fff" stroke-width="0.8" stroke-linecap="butt" stroke-linejoin="round"/>
<path d="M423.5 526L423.5 540.5" fill="none" stroke="#000" stroke-width="4.6" stroke-linecap="butt" stroke-linejoin="round"/>
<path d="M423.5 526L423.5 540.5" fill="none" stroke="#fff" stroke-width="1.4" stroke-linecap="butt" stroke-linejoin="round"/>
<path d="M481 556L468 560" fill="none" stroke="#000" stroke-width="3"/>
<path d="M468.5 559L458.2 575" fill="none" stroke="#000" stroke-width="5" stroke-linecap="butt" stroke-linejoin="round"/>
<path d="M468.5 559L458.2 575" fill="none" stroke="#fff" stroke-width="1.5" stroke-linecap="butt" stroke-linejoin="round"/>
<rect x="486" y="553" width="5" height="5" fill="#fff" stroke="#000" stroke-width="1"/>
<line x1="546" y1="455.4" x2="607" y2="455.4" stroke="#000" stroke-width="3.8"/>
<line x1="538" y1="523.7" x2="607" y2="523.7" stroke="#000" stroke-width="3.8"/>
<line x1="539.7" y1="462" x2="539.7" y2="523" stroke="#000" stroke-width="2.6"/>
<circle cx="481.9" cy="422.3" r="5.2" fill="#000"/>
<circle cx="421" cy="456" r="5.8" fill="#000"/>
<circle cx="422.3" cy="523" r="5.6" fill="#000"/>
<circle cx="481.9" cy="555.6" r="5.6" fill="#000"/>
<circle cx="538" cy="523.5" r="5" fill="#000"/>
<circle cx="479.6" cy="489.4" r="8" fill="#000"/>
<circle cx="426.5" cy="457.5" r="4.2" fill="#000"/>
<circle cx="427" cy="521.5" r="4" fill="#000"/>
<circle cx="477" cy="419.5" r="3.4" fill="#000"/>
<circle cx="486.5" cy="420.5" r="3.2" fill="#000"/>
<circle cx="416.5" cy="462.5" r="1.8" fill="#000"/>
<circle cx="427" cy="463" r="1.8" fill="#000"/>
<circle cx="417" cy="516.5" r="1.8" fill="#000"/>
<circle cx="427.5" cy="517" r="1.8" fill="#000"/>
<circle cx="486.5" cy="429.5" r="1.8" fill="#000"/>
<circle cx="487" cy="480.5" r="1.8" fill="#000"/>
<circle cx="474.5" cy="498" r="1.8" fill="#000"/>
<circle cx="486.5" cy="498" r="1.8" fill="#000"/>
<circle cx="425.5" cy="489.2" r="1.8" fill="#000"/>
<circle cx="417" cy="529.5" r="1.8" fill="#000"/>
<circle cx="428" cy="530.5" r="1.8" fill="#000"/>
<circle cx="475.5" cy="550" r="1.8" fill="#000"/>
<circle cx="487" cy="548" r="1.8" fill="#000"/>
<circle cx="543.5" cy="529" r="1.8" fill="#000"/>
<circle cx="474" cy="428" r="1.8" fill="#000"/>
<ellipse cx="371" cy="489.2" rx="1.2" ry="2.2" fill="#000" transform="rotate(0 371 489.2)"/>
<ellipse cx="533" cy="455.5" rx="1.2" ry="2.2" fill="#000" transform="rotate(0 533 455.5)"/>
<ellipse cx="561.6" cy="463" rx="3.5" ry="1.9" fill="#000" transform="rotate(0 561.6 463)"/>
<ellipse cx="583.9" cy="463" rx="3.5" ry="1.9" fill="#000" transform="rotate(0 583.9 463)"/>
<ellipse cx="561.6" cy="516.3" rx="3.5" ry="1.9" fill="#000" transform="rotate(0 561.6 516.3)"/>
<ellipse cx="583.9" cy="516.3" rx="3.5" ry="1.9" fill="#000" transform="rotate(0 583.9 516.3)"/>
<ellipse cx="546.6" cy="478.8" rx="1.9" ry="3.1" fill="#000" transform="rotate(0 546.6 478.8)"/>
<ellipse cx="599.5" cy="478.8" rx="1.9" ry="3.1" fill="#000" transform="rotate(0 599.5 478.8)"/>
<ellipse cx="546.6" cy="500.6" rx="1.9" ry="3.1" fill="#000" transform="rotate(0 546.6 500.6)"/>
<ellipse cx="599.5" cy="500.6" rx="1.9" ry="3.1" fill="#000" transform="rotate(0 599.5 500.6)"/>
<circle cx="573" cy="457.5" r="1" fill="#000"/>
<circle cx="573" cy="521.5" r="1" fill="#000"/>
<circle cx="604" cy="489.5" r="1" fill="#000"/>
<ellipse cx="488.5" cy="512.1" rx="1.5" ry="3" fill="#000" transform="rotate(0 488.5 512.1)"/>
<ellipse cx="487.9" cy="534" rx="1.5" ry="3" fill="#000" transform="rotate(0 487.9 534)"/>
<ellipse cx="497.4" cy="539.5" rx="2.8" ry="1.6" fill="#000" transform="rotate(-30 497.4 539.5)"/>
<ellipse cx="515.9" cy="528.5" rx="3" ry="1.8" fill="#000" transform="rotate(-30 515.9 528.5)"/>
<ellipse cx="509" cy="538.8" rx="1.8" ry="1.3" fill="#000" transform="rotate(-30 509 538.8)"/>
<ellipse cx="496.7" cy="506.7" rx="2.6" ry="1.6" fill="#000" transform="rotate(-35 496.7 506.7)"/>
<ellipse cx="504.3" cy="494.4" rx="2.8" ry="1.7" fill="#000" transform="rotate(30 504.3 494.4)"/>
<ellipse cx="509.7" cy="506" rx="2.8" ry="1.7" fill="#000" transform="rotate(30 509.7 506)"/>
<ellipse cx="522.7" cy="505.3" rx="2.6" ry="1.6" fill="#000" transform="rotate(30 522.7 505.3)"/>
<ellipse cx="524" cy="517" rx="2.8" ry="1.7" fill="#000" transform="rotate(30 524 517)"/>
<ellipse cx="533" cy="500.5" rx="1.7" ry="2.8" fill="#000" transform="rotate(30 533 500.5)"/>
<ellipse cx="516.6" cy="517" rx="2.4" ry="1.5" fill="#000" transform="rotate(-20 516.6 517)"/>
<ellipse cx="492" cy="480.5" rx="2.6" ry="1.5" fill="#000" transform="rotate(-25 492 480.5)"/>
<ellipse cx="497" cy="484" rx="2.2" ry="1.3" fill="#000" transform="rotate(-25 497 484)"/>
<rect x="452.2" y="449.7" width="20.6" height="12.6" fill="#fff" stroke="#000" stroke-width="1.9"/>
<text x="462.5" y="459.6" font-size="9.8" font-family='"Liberation Serif", "Times New Roman", serif' text-anchor="middle" stroke="#000" stroke-width="0.3" textLength="13.2" lengthAdjust="spacingAndGlyphs">358</text>
<rect x="490.3" y="449.7" width="20.6" height="12.6" fill="#fff" stroke="#000" stroke-width="1.9"/>
<text x="500.6" y="459.6" font-size="9.8" font-family='"Liberation Serif", "Times New Roman", serif' text-anchor="middle" stroke="#000" stroke-width="0.3" textLength="13.2" lengthAdjust="spacingAndGlyphs">298</text>
<rect x="393.5" y="483.5" width="20.6" height="12.6" fill="#fff" stroke="#000" stroke-width="1.9"/>
<text x="403.8" y="493.4" font-size="9.8" font-family='"Liberation Serif", "Times New Roman", serif' text-anchor="middle" stroke="#000" stroke-width="0.3" textLength="13.2" lengthAdjust="spacingAndGlyphs">268</text>
<rect x="432.3" y="483.5" width="20.6" height="12.6" fill="#fff" stroke="#000" stroke-width="1.9"/>
<text x="442.6" y="493.4" font-size="9.8" font-family='"Liberation Serif", "Times New Roman", serif' text-anchor="middle" stroke="#000" stroke-width="0.3" textLength="13.2" lengthAdjust="spacingAndGlyphs">358</text>
<rect x="509.4" y="483.2" width="20.6" height="12.6" fill="#fff" stroke="#000" stroke-width="1.9"/>
<text x="519.7" y="493.1" font-size="9.8" font-family='"Liberation Serif", "Times New Roman", serif' text-anchor="middle" stroke="#000" stroke-width="0.3" textLength="13.2" lengthAdjust="spacingAndGlyphs">238</text>
<rect x="451.7" y="517.4" width="20.6" height="12.6" fill="#fff" stroke="#000" stroke-width="1.9"/>
<text x="462" y="527.3" font-size="9.8" font-family='"Liberation Serif", "Times New Roman", serif' text-anchor="middle" stroke="#000" stroke-width="0.3" textLength="13.2" lengthAdjust="spacingAndGlyphs">338</text>
<rect x="490.6" y="517.4" width="20.6" height="12.6" fill="#fff" stroke="#000" stroke-width="1.9"/>
<text x="500.9" y="527.3" font-size="9.8" font-family='"Liberation Serif", "Times New Roman", serif' text-anchor="middle" stroke="#000" stroke-width="0.3" textLength="13.2" lengthAdjust="spacingAndGlyphs">178</text>
<rect x="433.2" y="550.6" width="18.4" height="12.4" fill="#fff" stroke="#000" stroke-width="1.9"/>
<text x="442.4" y="560.4" font-size="9.8" font-family='"Liberation Serif", "Times New Roman", serif' text-anchor="middle" stroke="#000" stroke-width="0.3" textLength="13.2" lengthAdjust="spacingAndGlyphs">148</text>
<rect x="562.4" y="483.3" width="20.6" height="12.6" fill="#fff" stroke="#000" stroke-width="1.9"/>
<text x="572.7" y="493.2" font-size="9.8" font-family='"Liberation Serif", "Times New Roman", serif' text-anchor="middle" stroke="#000" stroke-width="0.3" textLength="13.2" lengthAdjust="spacingAndGlyphs">238</text>
<text x="539.5" y="22.5" font-size="15" font-family='"Liberation Sans", Arial, sans-serif' text-anchor="start">1470</text>
<text x="507.8" y="60.7" font-size="15" font-family='"Liberation Sans", Arial, sans-serif' text-anchor="start">1106</text>
<text x="23.6" y="603.3" font-size="15" font-family='"Liberation Sans", Arial, sans-serif' text-anchor="start" transform="rotate(-90 23.6 603.3)">1580</text>
<text x="56.8" y="618" font-size="15" font-family='"Liberation Sans", Arial, sans-serif' text-anchor="start" transform="rotate(-90 56.8 618)">1231</text>
<text x="502.5" y="313.7" font-size="15" font-family='"Liberation Sans", Arial, sans-serif' text-anchor="middle">18.7²</text>
<text x="502.5" y="331.7" font-size="15" font-family='"Liberation Sans", Arial, sans-serif' text-anchor="middle">*284cm</text>
<text x="725.5" y="132.5" font-size="15" font-family='"Liberation Sans", Arial, sans-serif' text-anchor="middle">7.2m²</text>
<text x="725.5" y="150.5" font-size="15" font-family='"Liberation Sans", Arial, sans-serif' text-anchor="middle">*100cm</text>
<text x="348" y="550" font-size="15" font-family='"Liberation Sans", Arial, sans-serif' text-anchor="middle">9.2m²</text>
<text x="348" y="568" font-size="15" font-family='"Liberation Sans", Arial, sans-serif' text-anchor="middle">*148cm</text>
<text x="670.5" y="615.7" font-size="15" font-family='"Liberation Sans", Arial, sans-serif' text-anchor="middle">39.4m²</text>
<text x="670.5" y="633.7" font-size="15" font-family='"Liberation Sans", Arial, sans-serif' text-anchor="middle">*239cm</text>
<text x="847.7" y="658" font-size="15" font-family='"Liberation Sans", Arial, sans-serif' text-anchor="middle">15.3m²</text>
<text x="847.7" y="676" font-size="15" font-family='"Liberation Sans", Arial, sans-serif' text-anchor="middle">*278cm</text>
<text x="231.5" y="781.3" font-size="15" font-family='"Liberation Sans", Arial, sans-serif' text-anchor="middle">14.2m²</text>
<text x="231.5" y="799.3" font-size="15" font-family='"Liberation Sans", Arial, sans-serif' text-anchor="middle">*100cm</text>
<text x="828.4" y="770.8" font-size="15" font-family='"Liberation Sans", Arial, sans-serif' text-anchor="middle">PCT210221</text>
<text x="828.4" y="787.9" font-size="15" font-family='"Liberation Sans", Arial, sans-serif' text-anchor="middle">*284cm</text>
<text x="828.4" y="805.1" font-size="15" font-family='"Liberation Sans", Arial, sans-serif' text-anchor="middle">**651cm</text>
<text x="828.4" y="822.3" font-size="15" font-family='"Liberation Sans", Arial, sans-serif' text-anchor="middle">***103.8m²</text>
</svg>
</body></html>
